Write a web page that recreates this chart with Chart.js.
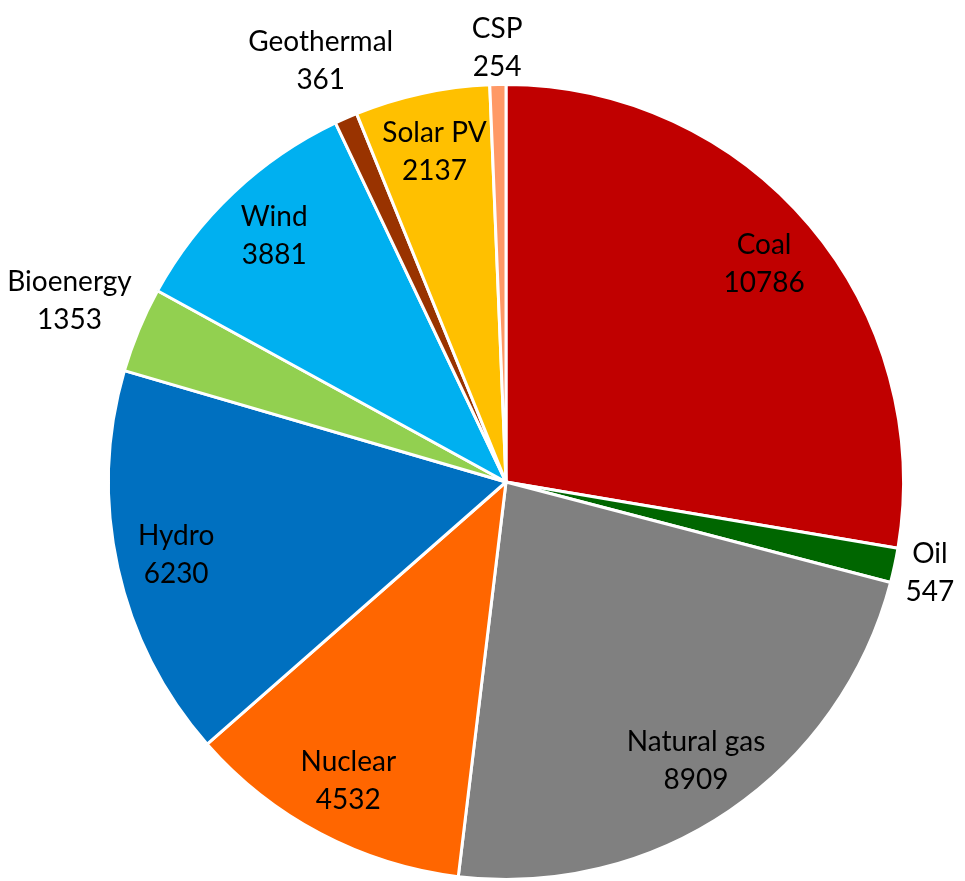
<!DOCTYPE html>
<html>
<head>
<meta charset="utf-8">
<script src="https://cdn.jsdelivr.net/npm/chart.js@4.4.0/dist/chart.umd.min.js"></script>
<style>
	html, body { margin: 0; padding: 0; background: #fff; }
	#wrap { width: 965px; height: 881px; }
</style>
</head>
<body>
<div id="wrap"><canvas id="PieChart"></canvas></div>
<script>
var sources = ['Coal', 'Oil', 'Natural gas', 'Nuclear', 'Hydro', 'Bioenergy', 'Wind', 'Geothermal', 'Solar PV', 'CSP'];
var generation = [10786, 547, 8909, 4532, 6230, 1353, 3881, 361, 2137, 254];
var sliceColors = ['#C00000', '#006600', '#808080', '#FF6600', '#0070C0', '#92D050', '#00B0F0', '#993300', '#FFC000', '#FF9966'];

// labels: name + value, inside big slices, outside small ones
var pieLabels = {
	id: 'pieLabels',
	afterDatasetsDraw: function (chart) {
		var ctx = chart.ctx;
		var meta = chart.getDatasetMeta(0);
		var total = generation.reduce(function (a, b) { return a + b; }, 0);
		ctx.save();
		ctx.font = '28px Lato';
		ctx.fillStyle = '#000';
		ctx.textAlign = 'center';
		ctx.textBaseline = 'middle';
		meta.data.forEach(function (arc, i) {
			var mid = (arc.startAngle + arc.endAngle) / 2;
			var small = generation[i] / total < 0.04;
			var w = Math.max(ctx.measureText(sources[i]).width, ctx.measureText(String(generation[i])).width);
			var r = small ? arc.outerRadius + 6 + Math.abs(Math.cos(mid)) * w / 2 + Math.abs(Math.sin(mid)) * 30
				: arc.outerRadius * 0.85;
			var x = arc.x + Math.cos(mid) * r;
			var y = arc.y + Math.sin(mid) * r;
			ctx.fillText(sources[i], x, y - 19);
			ctx.fillText(String(generation[i]), x, y + 19);
		});
		ctx.restore();
	}
};

new Chart(document.getElementById('PieChart'), {
	type: 'pie',
	data: {
		labels: sources,
		datasets: [{
			data: generation,
			backgroundColor: sliceColors,
			borderColor: '#ffffff',
			borderWidth: 3
		}]
	},
	options: {
		responsive: true,
		maintainAspectRatio: false,
		animation: false,
		layout: { padding: { top: 83, bottom: 0, left: 47, right: 0 } },
		plugins: {
			legend: { display: false },
			tooltip: { enabled: false }
		}
	},
	plugins: [pieLabels]
});
</script>
</body>
</html>
